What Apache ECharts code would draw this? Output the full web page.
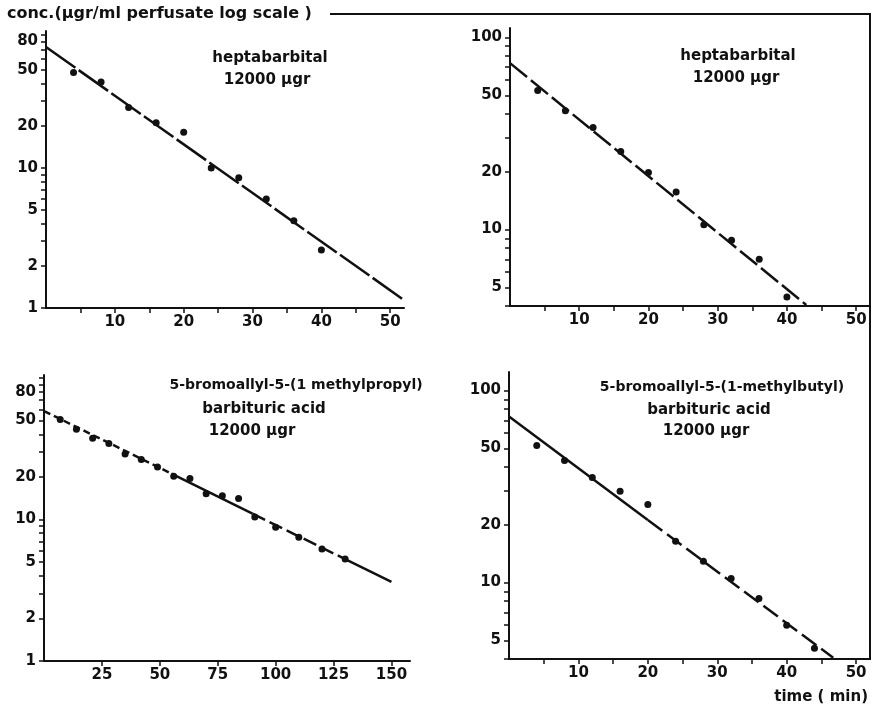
<!DOCTYPE html>
<html><head><meta charset="utf-8">
<script src="https://cdn.jsdelivr.net/npm/echarts@6/dist/echarts.min.js"></script>
<style>html,body{margin:0;padding:0;background:#fff}#c{width:874px;height:706px}</style>
</head><body><div id="c"></div>
<script>
// ---------- data ----------
// Panel 1: heptabarbital (top-left)
const p1Time = [4, 8, 12, 16, 20, 24, 28, 32, 36, 40];
const p1Conc = [48, 41, 27, 21, 18, 10, 8.5, 6, 4.2, 2.6];
const p1FitTime = [0, 52];
const p1FitConc = [73, 1.14];

// Panel 2: heptabarbital (top-right)
const p2Time = [4, 8, 12, 16, 20, 24, 28, 32, 36, 40];
const p2Conc = [53, 41.5, 34, 25.5, 19.8, 15.7, 10.6, 8.8, 7.0, 4.45];
const p2FitTime = [0, 42.8];
const p2FitConc = [73.5, 4.05];

// Panel 3: 5-bromoallyl-5-(1 methylpropyl) barbituric acid (bottom-left)
const p3Time = [7, 14, 21, 28, 35, 42, 49, 56, 63, 70, 77, 84, 91, 100, 110, 120, 130];
const p3Conc = [51, 43.5, 37.5, 34.5, 29, 26.5, 23.5, 20.2, 19.5, 15.2, 14.7, 14.1, 10.4, 8.8, 7.5, 6.2, 5.25];
const p3FitTime = [0, 55, 90, 130, 150];
const p3FitConc = [58.4, 21.1, 11.0, 5.25, 3.63];

// Panel 4: 5-bromoallyl-5-(1-methylbutyl) barbituric acid (bottom-right)
const p4Time = [4, 8, 12, 16, 20, 24, 28, 32, 36, 40, 44];
const p4Conc = [51.7, 43.2, 35.3, 29.9, 25.5, 16.4, 12.9, 10.5, 8.26, 6.0, 4.55];
const p4FitTime = [0, 20, 46.7];
const p4FitConc = [73.2, 21.2, 4.06];

// tick labels
const xTicksMin = [5, 10, 15, 20, 25, 30, 35, 40, 45, 50];
const xLabelsMin = [10, 20, 30, 40, 50];
const xTicksP3 = [25, 50, 75, 100, 125, 150];
const yLabelsA = [1, 2, 5, 10, 20, 50, 80];
const yLabelsB = [5, 10, 20, 50, 100];
const yTicksAll = [1, 2, 3, 4, 5, 6, 7, 8, 9, 10, 20, 30, 40, 50, 60, 70, 80, 90, 100];

// ---------- chart ----------
const FONT = 'DejaVu Sans';
const INK = '#111';
const zip = (a, b) => a.map((v, i) => [v, b[i]]);

const grids = [
  {left: 46, top: 31, width: 358, height: 277},
  {left: 510, top: 28, width: 360, height: 278},
  {left: 44, top: 375, width: 366, height: 286},
  {left: 509, top: 372, width: 361, height: 287}
];
const xCfg = [
  {max: 52, ticks: xTicksMin, labels: xLabelsMin},
  {max: 52, ticks: xTicksMin, labels: xLabelsMin},
  {max: 158, ticks: xTicksP3, labels: xTicksP3},
  {max: 52, ticks: xTicksMin, labels: xLabelsMin}
];
const yCfg = [
  {min: 1, max: 95, labels: yLabelsA},
  {min: 4, max: 112, labels: yLabelsB},
  {min: 1, max: 105, labels: yLabelsA},
  {min: 4, max: 125, labels: yLabelsB}
];

const labelStyle = {color: INK, fontFamily: FONT, fontSize: 15, fontWeight: 'bold'};

const xAxis = xCfg.map((c, i) => ({
  type: 'value', gridIndex: i, min: 0, max: c.max,
  axisLine: {show: true, onZero: false, lineStyle: {color: INK, width: 2}},
  axisTick: {show: true, length: 5, customValues: c.ticks, lineStyle: {color: INK, width: 1.5}},
  axisLabel: Object.assign({show: true, margin: 7, customValues: c.labels}, labelStyle),
  splitLine: {show: false}
}));
const yAxis = yCfg.map((c, i) => ({
  type: 'log', logBase: 10, gridIndex: i, min: c.min, max: c.max,
  axisLine: {show: true, onZero: false, lineStyle: {color: INK, width: 2}},
  axisTick: {show: true, length: 5, customValues: yTicksAll.filter(v => v >= c.min && v <= c.max), lineStyle: {color: INK, width: 1.5}},
  axisLabel: Object.assign({show: true, margin: 8, customValues: c.labels}, labelStyle),
  minorTick: {show: false},
  splitLine: {show: false}
}));

function scatter(i, t, c) {
  return {type: 'scatter', xAxisIndex: i, yAxisIndex: i, data: zip(t, c),
    symbol: 'circle', symbolSize: 7, itemStyle: {color: INK, opacity: 1}, z: 5, silent: true};
}
function fit(i, t, c, dash) {
  return {type: 'line', xAxisIndex: i, yAxisIndex: i, data: zip(t, c),
    symbol: 'none', clip: false, silent: true, z: 3,
    lineStyle: {color: INK, width: 2.5, type: dash}};
}

const series = [
  fit(0, p1FitTime, p1FitConc, [36, 4]),
  scatter(0, p1Time, p1Conc),
  fit(1, p2FitTime, p2FitConc, [22, 5]),
  scatter(1, p2Time, p2Conc),
  fit(2, p3FitTime.slice(0, 2), p3FitConc.slice(0, 2), [7, 4]),
  fit(2, p3FitTime.slice(1, 3), p3FitConc.slice(1, 3), 'solid'),
  fit(2, p3FitTime.slice(2, 4), p3FitConc.slice(2, 4), [14, 5]),
  fit(2, p3FitTime.slice(3, 5), p3FitConc.slice(3, 5), 'solid'),
  scatter(2, p3Time, p3Conc),
  fit(3, p4FitTime.slice(0, 2), p4FitConc.slice(0, 2), 'solid'),
  fit(3, p4FitTime.slice(1, 3), p4FitConc.slice(1, 3), [18, 6]),
  scatter(3, p4Time, p4Conc)
];

function txt(x, y, s, size, align) {
  return {type: 'text', x: x, y: y, silent: true,
    style: {text: s, fill: INK, font: 'bold ' + size + 'px "' + FONT + '"', textAlign: align || 'center', textVerticalAlign: 'middle'}};
}

const graphic = [
  {type: 'polyline', silent: true, shape: {points: [[330, 14], [870, 14], [870, 660]]},
   style: {stroke: INK, lineWidth: 2, fill: null}},
  txt(7, 14, 'conc.(μgr/ml perfusate log scale )', 16, 'left'),
  txt(270, 58, 'heptabarbital', 15),
  txt(267, 80, '12000 μgr', 15),
  txt(738, 56, 'heptabarbital', 15),
  txt(736, 78, '12000 μgr', 15),
  txt(296, 385, '5-bromoallyl-5-(1 methylpropyl)', 14),
  txt(264, 409, 'barbituric acid', 15),
  txt(252, 431, '12000 μgr', 15),
  txt(722, 387, '5-bromoallyl-5-(1-methylbutyl)', 14),
  txt(709, 410, 'barbituric acid', 15),
  txt(706, 431, '12000 μgr', 15),
  txt(868, 697, 'time ( min)', 15, 'right')
];

const chart = echarts.init(document.getElementById('c'), null, {renderer: 'canvas'});
chart.setOption({
  animation: false,
  backgroundColor: '#fff',
  grid: grids,
  xAxis: xAxis,
  yAxis: yAxis,
  series: series,
  graphic: graphic
});
</script>
</body></html>
